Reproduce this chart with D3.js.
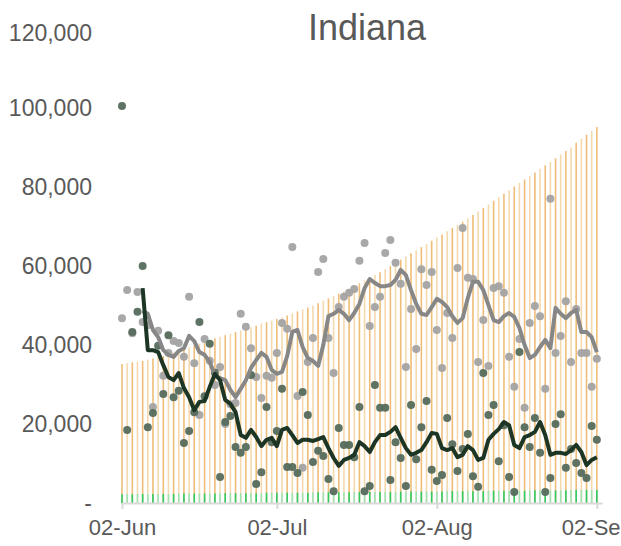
<!DOCTYPE html>
<html>
<head>
<meta charset="utf-8">
<script src="https://cdn.jsdelivr.net/npm/d3@7"></script>
<style>
  body { margin: 0; background: #fff; }
  svg text { font-family: "Liberation Sans", Arial, sans-serif; fill: #595959; }
</style>
</head>
<body>
<div id="chart"></div>
<script>
// days: 02-Jun .. 02-Sep 2020
const days = d3.utcDay.range(new Date(Date.UTC(2020, 5, 2)), new Date(Date.UTC(2020, 8, 3)));

const tickDates = ["2020-06-02", "2020-07-02", "2020-08-02", "2020-09-02"];
const yTicks = [0, 20000, 40000, 60000, 80000, 100000, 120000];

// orange bars
const capacity = [
  35200, 35400, 35600, 35800, 36000, 36300, 36600, 36900, 37200, 37600,
  38000, 38400, 38900, 39400, 39900, 40400, 40800, 41300, 41700, 42100,
  42500, 42900, 43300, 43700, 44100, 44500, 44900, 45400, 45800, 46200,
  46600, 47000, 47500, 48000, 48500, 49000, 49500, 50000, 50600, 51200,
  51800, 52400, 53000, 53600, 54200, 54900, 55600, 56300, 57000, 57700,
  58400, 59200, 60000, 60800, 61600, 62400, 63200, 64000, 64800, 65600,
  66400, 67200, 68000, 68800, 69600, 70400, 71200, 72000, 72900, 73800,
  74700, 75600, 76500, 77400, 78300, 79200, 80100, 81000, 81900, 82800,
  83700, 84600, 85500, 86400, 87300, 88200, 89100, 90000, 91200, 92200,
  93200, 94200, 95200
];

// green bars at the bottom
const baseline = [
  2200, 2200, 2200, 2300, 2300, 2300, 2300, 2300, 2300, 2300,
  2300, 2400, 2400, 2400, 2400, 2400, 2400, 2400, 2400, 2500,
  2500, 2500, 2500, 2500, 2500, 2500, 2500, 2500, 2600, 2600,
  2600, 2600, 2600, 2600, 2600, 2600, 2600, 2700, 2700, 2700,
  2700, 2700, 2700, 2700, 2700, 2700, 2800, 2800, 2800, 2800,
  2800, 2800, 2800, 2800, 2900, 2900, 2900, 2900, 2900, 2900,
  2900, 2900, 2900, 3000, 3000, 3000, 3000, 3000, 3000, 3000,
  3000, 3100, 3100, 3100, 3100, 3100, 3100, 3100, 3100, 3200,
  3200, 3200, 3200, 3200, 3200, 3200, 3200, 3300, 3300, 3300,
  3300, 3300, 3300
];

// grey daily points
const greyDaily = [
  46800, 53900, 43000, 53400, 45800, 45000, 24300, 43600, 32200, 38000,
  41000, 40500, 37000, 52200, 35400, 22300, 41500, 36000, 29900, 34400,
  20000, 25000, 25300, 47900, 44600, 39200, 31900, 26600, 32200, 31700,
  38000, 45600, 44100, 64800, 27100, 8900, 35700, 41800, 58500, 61800,
  41800, 32900, 49600, 52200, 53200, 54200, 61300, 65800, 44800, 49600,
  52200, 63300, 66600, 60800, 55500, 34400, 49100, 39000, 59200, 55200,
  58500, 43800, 34200, 48100, 41800, 59500, 69600, 57000, 56700, 35700,
  46300, 34700, 54400, 54900, 53200, 37000, 29400, 41500, 24100, 45600,
  49900, 47300, 28900, 77000, 38000, 42300, 51100, 35700, 49100, 38000,
  38000, 29400, 36500
];

// dark green daily points
const greenDaily = [
  100500, 18500, 43300, 48400, 60000, 19200, 22800, 39800, 27600, 42500,
  26800, 28400, 15200, 18200, 23000, 45800, 27000, 40300, 33000, 6600,
  20500, 22000, 14200, 12700, 14200, 32400, 4800, 7800, 24300, 15400,
  18200, 28900, 9100, 9100, 7600, 28100, 22300, 10400, 13200, 11900,
  6100, 3000, 19000, 14700, 14700, 11600, 24300, 3000, 4300, 29900,
  24100, 24100, 5800, 15400, 11400, 4300, 24800, 11100, 19200, 25800,
  8400, 5600, 7100, 21500, 14900, 8100, 13700, 17500, 6800, 4100,
  32900, 22300, 24800, 10600, 19700, 6600, 2800, 38200, 19200, 14200,
  21500, 12700, 2800, 6300, 20000, 22500, 8900, 13700, 10100, 7600,
  6300, 19500, 16000
];

// rolling averages (start 06-Jun)
const greyAvg = [
  null, null, null, null, 48600, 47900, 43800, 42000, 38700, 37500,
  37000, 38500, 39200, 42300, 41000, 38200, 37500, 35700, 32200, 31600,
  31100, 28600, 26800, 28900, 31100, 34200, 36200, 38000, 37000, 33700,
  32700, 33200, 37200, 43300, 43800, 39500, 36700, 36000, 34700, 40000,
  47300, 47900, 48900, 47900, 46300, 48100, 50400, 54400, 56700, 55700,
  54900, 54900, 55200, 56500, 59000, 57700, 53900, 50400, 47900, 47600,
  49600, 51700, 50900, 49600, 47300, 45600, 46800, 51900, 56000, 56000,
  53900, 50100, 46300, 45800, 47300, 48100, 47100, 44300, 40000, 36700,
  37500, 39500, 41300, 39200, 49400, 47900, 46800, 48100, 48900, 43300,
  43300, 42000, 38200
];

const greenAvg = [
  null, null, null, null, 54400, 38700, 38700, 38200, 34900, 31900,
  31100, 32900, 29100, 26800, 23500, 25600, 25800, 29400, 32700, 31100,
  26100, 25100, 23000, 17200, 16500, 18500, 16700, 14400, 16000, 16500,
  14400, 18500, 19000, 17200, 15200, 16000, 16000, 15700, 16200, 16700,
  13900, 11400, 9400, 10900, 11400, 12200, 15400, 14400, 12900, 15400,
  17200, 17200, 18000, 19200, 16500, 13900, 12200, 12700, 13400, 15400,
  17700, 17500, 13900, 13400, 13900, 11600, 12200, 14400, 13400, 10900,
  11400, 16000, 17500, 18700, 20500, 19700, 14700, 13900, 16700, 17200,
  18000, 20500, 17200, 12200, 12700, 12700, 12400, 13400, 14700, 12900,
  9600, 10900, 11600
];

const width = 621;
const height = 546;

const svg = d3.select("#chart")
  .append("svg")
  .attr("width", width)
  .attr("height", height);

const x = d3.scaleUtc()
  .domain([new Date(Date.UTC(2020, 5, 2)), new Date(Date.UTC(2020, 8, 3))])
  .range([122, 602]);

const y = d3.scaleLinear()
  .domain([0, 120000])
  .range([503, 29]);

// Title
svg.append("text")
  .attr("x", 367)
  .attr("y", 40)
  .attr("text-anchor", "middle")
  .style("font-size", "36px")
  .text("Indiana");

// Y axis labels only
const yAxis = svg.append("g")
  .attr("transform", "translate(100,0)")
  .call(d3.axisLeft(y)
    .tickValues(yTicks)
    .tickSize(0)
    .tickPadding(8)
    .tickFormat(d => d === 0 ? "-" : d3.format(",")(d)));
yAxis.select(".domain").remove();
yAxis.selectAll("text").style("font-size", "23px").attr("fill", "#595959");
// top label sits a little lower in the original
yAxis.selectAll(".tick").filter(d => d === 120000).select("text").attr("dy", "0.5em");

// Orange bars
svg.append("g")
  .selectAll("line")
  .data(capacity)
  .join("line")
  .attr("x1", (d, i) => x(days[i]))
  .attr("x2", (d, i) => x(days[i]))
  .attr("y1", y(0))
  .attr("y2", d => y(d))
  .attr("stroke", (d, i) => i % 2 ? "#f5d9ad" : "#efbd78")
  .attr("stroke-width", 1.6);

// Green bars
svg.append("g")
  .selectAll("line")
  .data(baseline)
  .join("line")
  .attr("x1", (d, i) => x(days[i]))
  .attr("x2", (d, i) => x(days[i]))
  .attr("y1", y(0))
  .attr("y2", d => y(d))
  .attr("stroke", (d, i) => i % 2 ? "#9fe3b5" : "#2fcc66")
  .attr("stroke-width", 1.6);

// X axis
const xAxis = svg.append("g")
  .attr("transform", `translate(0,${y(0)})`)
  .call(d3.axisBottom(x)
    .tickValues(tickDates.map(s => new Date(s + "T00:00:00Z")))
    .tickFormat(d3.utcFormat("%d-%b"))
    .tickSize(6)
    .tickSizeOuter(0)
    .tickPadding(10));
xAxis.select(".domain").attr("stroke", "#d9d9d9").attr("stroke-width", 2);
xAxis.selectAll(".tick line").attr("stroke", "#d9d9d9").attr("stroke-width", 2);
xAxis.selectAll("text").style("font-size", "22px").attr("fill", "#595959");

// Grey dots
svg.append("g")
  .selectAll("circle")
  .data(greyDaily)
  .join("circle")
  .attr("cx", (d, i) => x(days[i]))
  .attr("cy", d => y(d))
  .attr("r", 4)
  .attr("fill", "#a3a3a3")
  .attr("opacity", 0.95);

// Dark green dots
svg.append("g")
  .selectAll("circle")
  .data(greenDaily)
  .join("circle")
  .attr("cx", (d, i) => x(days[i]))
  .attr("cy", d => y(d))
  .attr("r", 4)
  .attr("fill", "#556b5c")
  .attr("opacity", 0.95);

const line = d3.line()
  .defined(d => d[1] != null)
  .x(d => x(d[0]))
  .y(d => y(d[1]));

// Grey average line
svg.append("path")
  .datum(days.map((d, i) => [d, greyAvg[i]]))
  .attr("d", line)
  .attr("fill", "none")
  .attr("stroke", "#878787")
  .attr("stroke-width", 4)
  .attr("stroke-linejoin", "round");

// Dark green average line
svg.append("path")
  .datum(days.map((d, i) => [d, greenAvg[i]]))
  .attr("d", line)
  .attr("fill", "none")
  .attr("stroke", "#1d3524")
  .attr("stroke-width", 4)
  .attr("stroke-linejoin", "round");
</script>
</body>
</html>
